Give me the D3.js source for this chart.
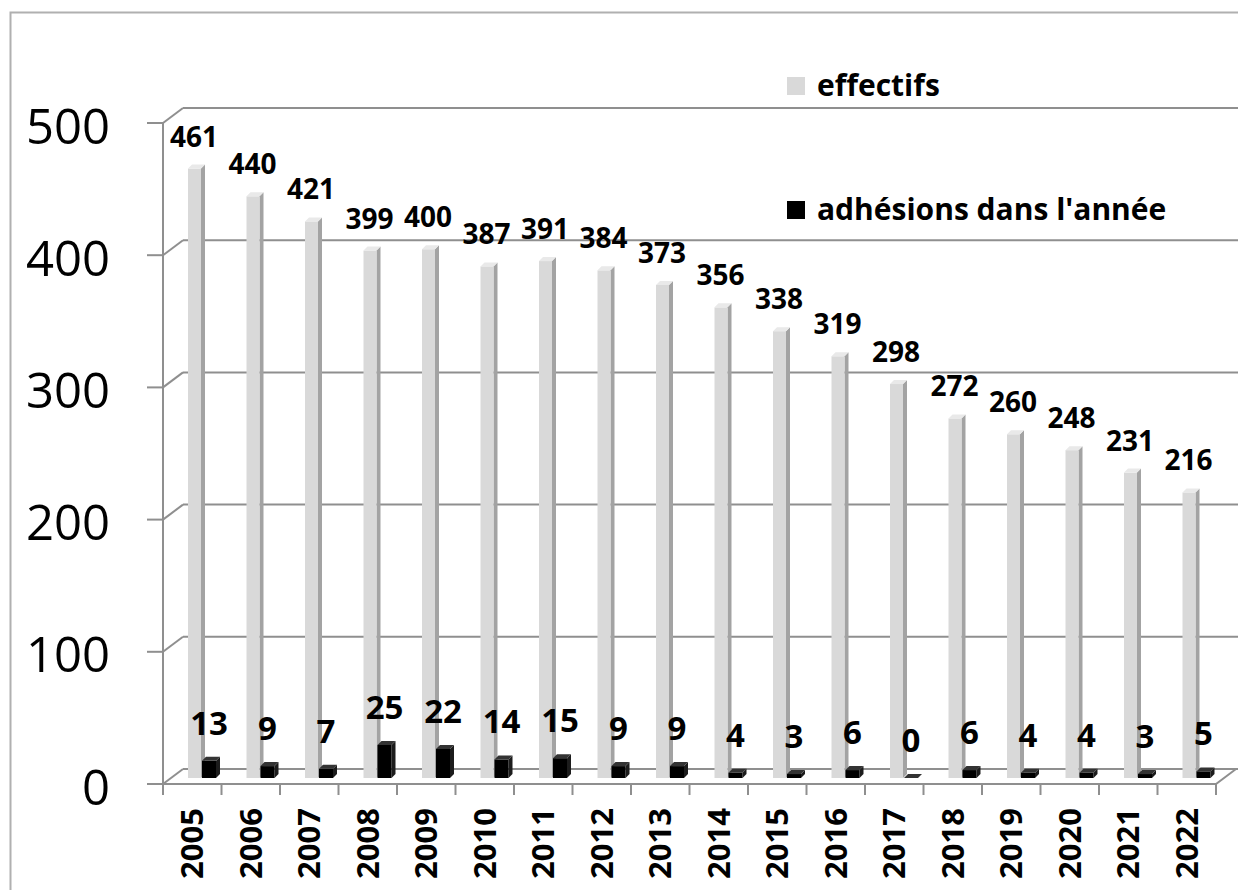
<!DOCTYPE html>
<html>
<head>
<meta charset="utf-8">
<script src="https://cdn.jsdelivr.net/npm/d3@7"></script>
<style>
  body { margin: 0; background: #fff; }
  svg { display: block; font-family: 'Open Sans', sans-serif; }
</style>
</head>
<body>
<div id="chart"></div>
<script>
const years = ['2005', '2006', '2007', '2008', '2009', '2010', '2011', '2012', '2013',
  '2014', '2015', '2016', '2017', '2018', '2019', '2020', '2021', '2022'];
const effectifs = [461, 440, 421, 399, 400, 387, 391, 384, 373, 356, 338, 319, 298, 272, 260, 248, 231, 216];
const adhesions = [13, 9, 7, 25, 22, 14, 15, 9, 9, 4, 3, 6, 0, 6, 4, 4, 3, 5];
const yTicks = [0, 100, 200, 300, 400, 500];
const seriesNames = ['effectifs', "adhésions dans l'année"];

const width = 1238;
const height = 890;
const gridColor = '#8f8f8f';

const svg = d3.select('#chart').append('svg')
  .attr('width', width)
  .attr('height', height);

// outer frame (right / bottom sides are cut off in the original)
svg.append('path')
  .attr('d', `M10.5,${height} V12.5 H${width}`)
  .attr('fill', 'none')
  .attr('stroke', '#b0b0b0')
  .attr('stroke-width', 2);

// scales: front plane, back wall and the depth where the bars stand
const depth = { dx: 20, dy: -15 };
const y = d3.scaleLinear().domain([0, 500]).range([784, 123]);
const yBack = (v) => y(v) + depth.dy;
const yBar = (v) => y(v) - 6;

const x = d3.scaleBand().domain(years).range([163, 1216]).paddingInner(0).paddingOuter(0);
const bw = x.bandwidth();

// back wall gridlines + left side wall diagonals
const grid = svg.append('g').attr('stroke', gridColor).attr('stroke-width', 2).attr('fill', 'none');
grid.selectAll('.gl')
  .data(yTicks)
  .join('line')
  .attr('x1', x.range()[0] + depth.dx)
  .attr('x2', width)
  .attr('y1', (d) => yBack(d))
  .attr('y2', (d) => yBack(d));
grid.selectAll('.diag')
  .data(yTicks)
  .join('line')
  .attr('x1', x.range()[0])
  .attr('y1', (d) => y(d))
  .attr('x2', x.range()[0] + depth.dx)
  .attr('y2', (d) => yBack(d));

// floor front edge and right diagonal
const x0 = x.range()[0];
const x1 = x.range()[1];
grid.append('path')
  .attr('d', `M${x0},${y(0)} H${x1} L${x1 + depth.dx},${yBack(0)}`);

// vertical front axis with ticks
grid.append('line')
  .attr('x1', x0).attr('x2', x0)
  .attr('y1', y(500)).attr('y2', y(0) + 11);
grid.selectAll('.ytick')
  .data(yTicks)
  .join('line')
  .attr('x1', x0 - 16).attr('x2', x0)
  .attr('y1', (d) => y(d)).attr('y2', (d) => y(d));
grid.selectAll('.xtick')
  .data(d3.range(years.length + 1))
  .join('line')
  .attr('x1', (i) => x0 + i * bw).attr('x2', (i) => x0 + i * bw)
  .attr('y1', y(0)).attr('y2', y(0) + 11);

// y tick labels
svg.append('g').selectAll('text')
  .data(yTicks)
  .join('text')
  .attr('x', 110)
  .attr('y', (d) => y(d) + 3)
  .attr('dy', '0.36em')
  .attr('text-anchor', 'end')
  .attr('font-size', 49)
  .attr('fill', '#000')
  .text((d) => d);

// x tick labels (rotated years)
svg.append('g').selectAll('text')
  .data(years)
  .join('text')
  .attr('transform', (d) => `translate(${x(d) + bw / 2},808) rotate(-90)`)
  .attr('dy', '0.36em')
  .attr('text-anchor', 'end')
  .attr('font-size', 31)
  .attr('font-weight', 'bold')
  .attr('fill', '#000')
  .text((d) => d);

// 3d-ish column: front face, right side, top
function column(g, left, w, v, colors) {
  const base = yBar(0);
  const top = yBar(v);
  const s = 4;
  g.append('polygon')
    .attr('points', `${left + w},${top} ${left + w + s},${top - s} ${left + w + s},${base - s} ${left + w},${base}`)
    .attr('fill', colors.side);
  g.append('rect')
    .attr('x', left).attr('y', top)
    .attr('width', w).attr('height', base - top)
    .attr('fill', colors.front);
  g.append('polygon')
    .attr('points', `${left},${top} ${left + s},${top - s} ${left + w + s},${top - s} ${left + w},${top}`)
    .attr('fill', colors.top);
}

const bars = svg.append('g');
const labels = svg.append('g').attr('font-weight', 'bold').attr('fill', '#000').attr('text-anchor', 'middle');

years.forEach((yr, i) => {
  const g = bars.append('g');
  const gx = x(yr) + 25;
  const kx = x(yr) + 39;
  column(g, gx, 13, effectifs[i], { front: '#d9d9d9', side: '#a3a3a3', top: '#e9e9e9' });
  column(g, kx, 14, adhesions[i], { front: '#000', side: '#1c1c1c', top: '#333' });

  labels.append('text')
    .attr('x', gx + 6)
    .attr('y', yBar(effectifs[i]) - 22)
    .attr('font-size', 28)
    .text(effectifs[i]);
  labels.append('text')
    .attr('x', kx + 7)
    .attr('y', yBar(adhesions[i]) - 26)
    .attr('font-size', 33)
    .text(adhesions[i]);
});

// legend
const legend = svg.append('g');
const legendRows = [
  { name: seriesNames[0], color: '#d9d9d9', y: 96 },
  { name: seriesNames[1], color: '#000', y: 220 },
];
legendRows.forEach((r) => {
  legend.append('rect')
    .attr('x', 787).attr('y', r.y - 19)
    .attr('width', 18).attr('height', 18)
    .attr('fill', r.color);
  legend.append('text')
    .attr('x', 817).attr('y', r.y)
    .attr('font-size', 30)
    .attr('font-weight', 'bold')
    .attr('fill', '#000')
    .text(r.name);
});
</script>
</body>
</html>
